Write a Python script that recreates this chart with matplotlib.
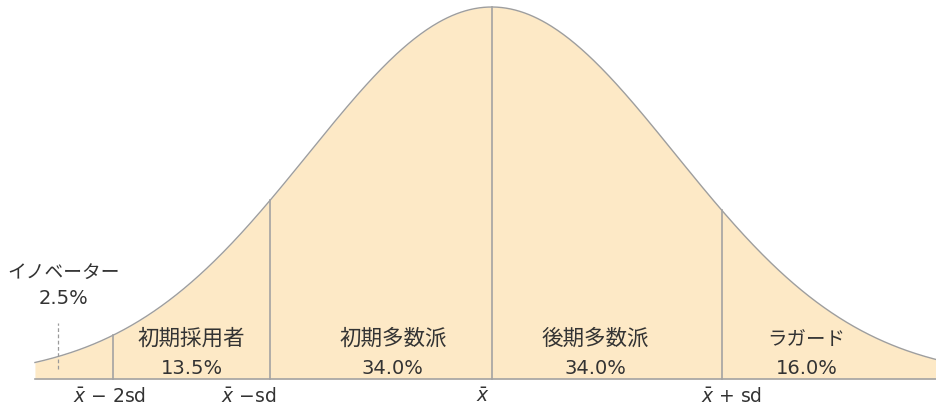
import numpy as np
import matplotlib.pyplot as plt

plt.rcParams['font.family'] = ['Noto Sans CJK JP', 'DejaVu Sans']

# segment boundaries in sd units
boundaries = [-2.07, -1.21, 0.0, 1.258]
curve_start, curve_end = -2.496, 2.433
innovator_x = -2.37

segments = ['初期採用者', '初期多数派', '後期多数派', 'ラガード']
shares = [13.5, 34.0, 34.0, 16.0]
innovator_name = 'イノベーター'
innovator_share = 2.5

tick_pos = [-2.09, -1.33, -0.05, 1.31]
tick_labels = [r'$\bar{x}$ − 2sd', r'$\bar{x}$ −sd', r'$\bar{x}$', r'$\bar{x}$ + sd']

# label centres (sd units)
label_x = [-1.64, -0.54, 0.565, 1.72]
label_size = [15.5, 15.5, 15.5, 14]

fill_col = '#FDE9C6'
line_col = '#A3A3A3'
text_col = '#333333'
num_font = ['DejaVu Sans', 'Noto Sans CJK JP']

def bell(z):
    return np.exp(-z ** 2 / 2)

fig = plt.figure(figsize=(9.37, 4.09), dpi=100)
ax = fig.add_axes([0, 0, 1, 1])
ax.set_xlim(-491.7 / 183, 445.3 / 183)
ax.set_ylim(-30 / 372, 1 + 7 / 372)
ax.axis('off')

z = np.linspace(curve_start, curve_end, 600)
ax.fill_between(z, 0, bell(z), color=fill_col, lw=0)
ax.plot(z, bell(z), color='#9E9E9E', lw=1.0)
ax.plot([curve_start, curve_end], [0, 0], color=line_col, lw=1.2)

for b in boundaries:
    ax.plot([b, b], [0, bell(b)], color=line_col, lw=1.2)

ax.plot([innovator_x, innovator_x], [10 / 372, 56 / 372], color='#9A9A9A',
        lw=0.9, ls=(0, (3, 2)))

for name, share, x, fs in zip(segments, shares, label_x, label_size):
    ax.text(x, 40 / 372, name, ha='center', va='center', fontsize=fs,
            color=text_col)
    ax.text(x, 11 / 372, f'{share:.1f}%', ha='center', va='center',
            fontsize=14, color=text_col, family=num_font)

ax.text(-2.34, 107 / 372, innovator_name, ha='center', va='center',
        fontsize=13.5, color=text_col)
ax.text(-2.34, 80 / 372, f'{innovator_share}%', ha='center', va='center',
        fontsize=14, color=text_col, family=num_font)

for x, lab in zip(tick_pos, tick_labels):
    ax.text(x, -18 / 372, lab, ha='center', va='center', fontsize=13.5,
            color=text_col, family=num_font)

fig.savefig('out.png', dpi=100)
